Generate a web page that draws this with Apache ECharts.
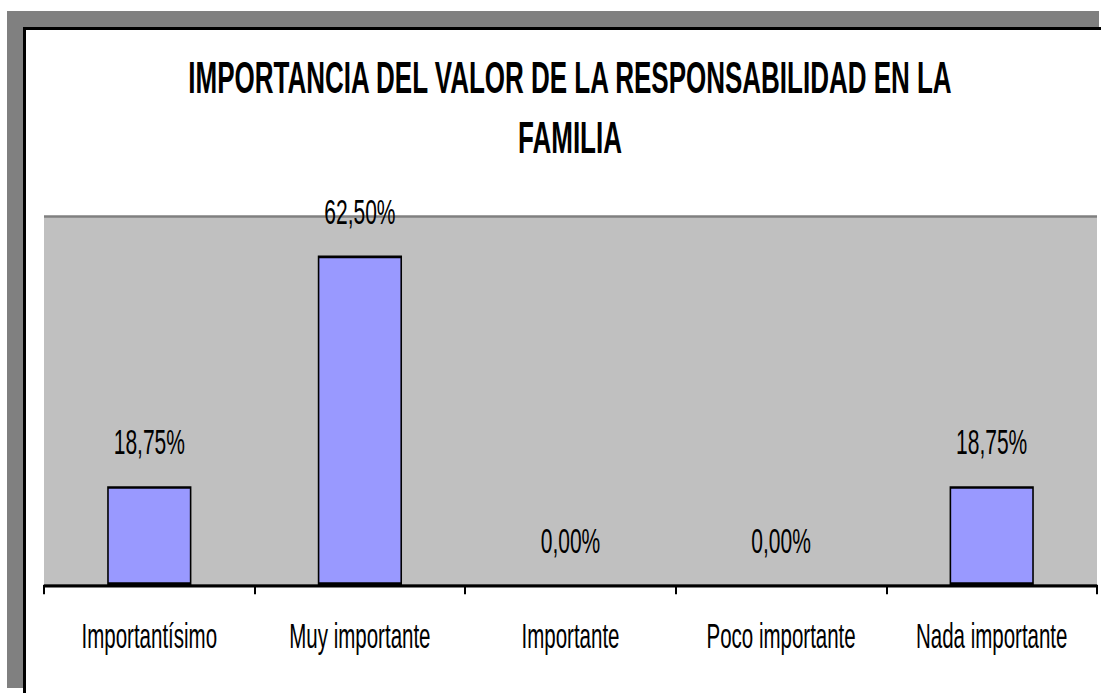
<!DOCTYPE html>
<html>
<head>
<meta charset="utf-8">
<script src="https://cdn.jsdelivr.net/npm/echarts@6/dist/echarts.min.js"></script>
<style>
html,body{margin:0;padding:0;background:#fff;overflow:hidden;width:1101px;height:693px;}
#c{width:1101px;height:408px;transform:scaleY(1.6985);transform-origin:0 0;}
</style>
</head>
<body>
<div id="c"></div>
<script>
const titleText = 'IMPORTANCIA DEL VALOR DE LA RESPONSABILIDAD EN LA\nFAMILIA';
const categories = ['Importantísimo', 'Muy importante', 'Importante', 'Poco importante', 'Nada importante'];
const values = [18.75, 62.5, 0, 0, 18.75];
const yMax = 70;

const FONT = 'Liberation Sans, Arial, sans-serif';
const chart = echarts.init(document.getElementById('c'), null, {renderer: 'svg'});
chart.setOption({
  animation: false,
  backgroundColor: '#ffffff',
  graphic: [
    {type: 'rect', z: -10, silent: true, shape: {x: 7, y: 6.5, width: 1092, height: 398.6}, style: {fill: '#808080'}},
    {type: 'rect', z: -9, silent: true, shape: {x: 23, y: 15.9, width: 1200, height: 500}, style: {fill: '#000000'}},
    {type: 'rect', z: -8, silent: true, shape: {x: 26, y: 17.7, width: 1200, height: 500}, style: {fill: '#ffffff'}}
  ],
  title: {
    text: titleText,
    left: 570,
    top: 28.5,
    padding: 0,
    textAlign: 'center',
    textStyle: {fontFamily: FONT, fontSize: 26, fontWeight: 'bold', color: '#000', lineHeight: 35}
  },
  grid: {left: 44, right: 4, top: 127.2, height: 217.2, show: true, backgroundColor: '#C0C0C0', borderWidth: 0},
  xAxis: {
    type: 'category',
    data: categories,
    boundaryGap: true,
    axisLine: {show: true, lineStyle: {color: '#000', width: 1.8}},
    axisTick: {show: true, length: 5.5, lineStyle: {color: '#000', width: 2}},
    axisLabel: {fontFamily: FONT, fontSize: 20.5, color: '#000', margin: 18, lineHeight: 24, interval: 0}
  },
  yAxis: {
    type: 'value',
    min: 0,
    max: yMax,
    interval: yMax,
    axisLine: {show: false},
    axisTick: {show: false},
    axisLabel: {show: false},
    splitLine: {show: true, lineStyle: {color: '#808080', width: 1.4}}
  },
  series: [{
    type: 'bar',
    data: values.map(v => v === 0 ? {value: v, itemStyle: {borderWidth: 0}} : v),
    barWidth: '40%',
    itemStyle: {color: '#9999FF', borderColor: '#000', borderWidth: 1.6},
    label: {
      show: true,
      position: 'top',
      distance: 14,
      fontFamily: FONT,
      fontSize: 21,
      lineHeight: 24,
      color: '#000',
      formatter: p => p.value.toFixed(2).replace('.', ',') + '%'
    }
  }]
});
</script>
</body>
</html>
